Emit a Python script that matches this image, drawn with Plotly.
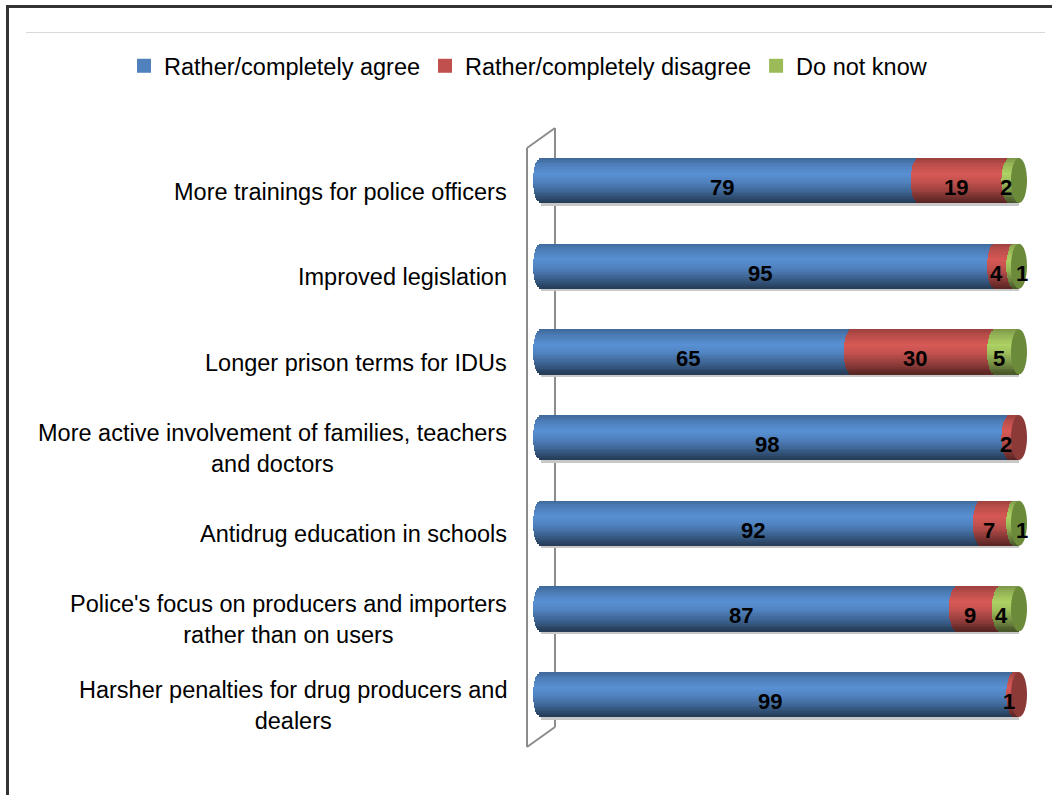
import math
import plotly.graph_objects as go

# ---- data -------------------------------------------------------------
categories = [
    "More trainings for police officers",
    "Improved legislation",
    "Longer prison terms for IDUs",
    "More active involvement of families, teachers<br>and doctors",
    "Antidrug education in schools",
    "Police's focus on producers and importers<br>rather than on users",
    "Harsher penalties for drug producers and<br>dealers",
]
agree = [79, 95, 65, 98, 92, 87, 99]
disagree = [19, 4, 30, 2, 7, 9, 1]
dont_know = [2, 1, 5, 0, 1, 4, 0]

series_names = ["Rather/completely agree", "Rather/completely disagree", "Do not know"]
series_values = [agree, disagree, dont_know]
series_colors = ["#4F81BD", "#C0504D", "#9BBB59"]
cap_colors = ["#2F5384", "#8C3A37", "#6B8A3A"]

# ---- geometry (pixels of the 1052x795 page) ---------------------------
W, H = 1052, 795
PL, PR, PT, PB = 524, 1034, 120, 760          # plot area edges
X0_PX, UNIT_PX = 541, 4.78                     # value 0 position, px per %
ROW0_PX, ROW_PX = 180.5, 85.67                 # first row centre, row pitch

x_range = [(PL - X0_PX) / UNIT_PX, (PR - X0_PX) / UNIT_PX]
y_range = [(PB - ROW0_PX) / ROW_PX, (PT - ROW0_PX) / ROW_PX]   # reversed

BAR_H = 45 / ROW_PX          # cylinder thickness in row units
RX = 8 / UNIT_PX             # horizontal radius of the cylinder ends
N_BANDS = 24
LABEL_DX = -8                # value labels sit on the front of the cylinder
LABEL_MIN_GAP = 22           # closer labels in a row get nudged apart
LABEL_NUDGE = 13


def px_x(px):
    return (px - PL) / (PR - PL)


def px_y(py):
    return (PB - py) / (PB - PT)


def hex_rgb(c):
    c = c.lstrip("#")
    return [int(c[i:i + 2], 16) for i in (0, 2, 4)]


# brightness across the cylinder, top (0) to bottom (1)
SHADE = [(0.0, 0.80), (0.12, 0.95), (0.35, 1.12), (0.55, 1.0),
         (0.75, 0.78), (0.9, 0.58), (1.0, 0.45)]


def shade(t):
    for (t0, f0), (t1, f1) in zip(SHADE, SHADE[1:]):
        if t0 <= t <= t1:
            return f0 + (f1 - f0) * (t - t0) / (t1 - t0)
    return 1.0


def shaded(color, f):
    r, g, b = hex_rgb(color)
    return "rgb({},{},{})".format(*[min(255, int(round(v * f))) for v in (r, g, b)])


rows = list(range(len(categories)))
totals = [a + d + k for a, d, k in zip(agree, disagree, dont_know)]

fig = go.Figure()

# soft shadow line under each cylinder
fig.add_trace(go.Bar(
    y=rows, x=totals, base=[0] * len(rows), orientation="h",
    offset=BAR_H / 2 - 0.004, width=3 / ROW_PX,
    marker=dict(color="#C8C8C8", line=dict(width=0)),
    showlegend=False, hoverinfo="skip",
))

# cylinders: each segment is drawn as thin horizontal bands with shading,
# the left end of every band pushed out so the segment starts with a curved face
for s, (vals, color) in enumerate(zip(series_values, series_colors)):
    starts = [sum(series_values[j][i] for j in range(s)) for i in rows]
    for k in range(N_BANDS):
        t_mid = (k + 0.5) / N_BANDS
        u = 2 * t_mid - 1
        bulge = RX * math.sqrt(max(0.0, 1 - u * u))
        bases, lengths = [], []
        for i in rows:
            v = vals[i]
            if v > 0:
                bases.append(starts[i] - bulge)
                lengths.append(v + bulge)
            else:
                bases.append(None)
                lengths.append(None)
        fig.add_trace(go.Bar(
            y=rows, x=lengths, base=bases, orientation="h",
            offset=-BAR_H / 2 + k * BAR_H / N_BANDS - 0.002,
            width=BAR_H / N_BANDS + 0.006,
            marker=dict(color=shaded(color, shade(t_mid)), line=dict(width=0)),
            showlegend=False, hoverinfo="skip",
        ))

# legend entries (square swatches)
for name, color in zip(series_names, series_colors):
    fig.add_trace(go.Scatter(
        x=[None], y=[None], mode="markers", name=name,
        marker=dict(color=color, symbol="square", size=14, line=dict(width=0)),
    ))

shapes = []
# end faces of the cylinders
for i in rows:
    last = max(s for s in range(3) if series_values[s][i] > 0)
    shapes.append(dict(
        type="circle", xref="x", yref="y", layer="above",
        x0=totals[i] - RX, x1=totals[i] + RX,
        y0=i - BAR_H / 2, y1=i + BAR_H / 2,
        fillcolor=cap_colors[last], line=dict(width=0),
    ))

# 3-D wall beside the category axis
wall = "#8C8C8C"
for (xa, ya), (xb, yb) in [((527, 148), (527, 747)), ((527, 148), (555, 128)),
                           ((555, 128), (555, 727)), ((527, 747), (555, 727))]:
    shapes.append(dict(type="line", xref="paper", yref="paper", layer="below",
                       x0=px_x(xa), y0=px_y(ya), x1=px_x(xb), y1=px_y(yb),
                       line=dict(color=wall, width=2)))

# chart frame and separator under the top edge
shapes.append(dict(type="line", xref="paper", yref="paper",
                   x0=px_x(6), y0=px_y(6.5), x1=px_x(1052), y1=px_y(6.5),
                   line=dict(color="#333333", width=3)))
shapes.append(dict(type="line", xref="paper", yref="paper",
                   x0=px_x(7.5), y0=px_y(5), x1=px_x(7.5), y1=px_y(795),
                   line=dict(color="#333333", width=3)))
shapes.append(dict(type="line", xref="paper", yref="paper",
                   x0=px_x(26), y0=px_y(32.5), x1=px_x(1045), y1=px_y(32.5),
                   line=dict(color="#D9D9D9", width=1)))

annotations = []
FONT = "Liberation Sans, Arial, sans-serif"
# category labels
for i, label in zip(rows, categories):
    annotations.append(dict(
        xref="paper", yref="y", x=px_x(509), y=i, yshift=-11,
        xanchor="right", yanchor="middle", align="center",
        text=label, showarrow=False,
        font=dict(family=FONT, size=23.5, color="#000000"),
    ))
# value labels
for i in rows:
    prev_px = None
    for s, vals in enumerate(series_values):
        v = vals[i]
        if v <= 0:
            continue
        start = sum(series_values[j][i] for j in range(s))
        mid = start + v / 2
        dx = LABEL_DX
        pos_px = X0_PX + mid * UNIT_PX + dx
        if prev_px is not None and pos_px - prev_px < LABEL_MIN_GAP:
            dx += LABEL_NUDGE
            pos_px += LABEL_NUDGE
        prev_px = pos_px
        annotations.append(dict(
            xref="x", yref="y", x=mid, y=i, xshift=dx, yshift=-7,
            xanchor="center", yanchor="middle",
            text="<b>{}</b>".format(v), showarrow=False,
            font=dict(family=FONT, size=22, color="#000000"),
        ))

fig.update_layout(
    width=W, height=H,
    margin=dict(l=PL, r=W - PR, t=PT, b=H - PB, pad=0),
    paper_bgcolor="white", plot_bgcolor="white",
    barmode="overlay", bargap=0,
    hovermode=False,
    xaxis=dict(range=x_range, showgrid=False, zeroline=False,
               showticklabels=False, showline=False, fixedrange=True),
    yaxis=dict(range=y_range, showgrid=False, zeroline=False,
               showticklabels=False, showline=False, fixedrange=True),
    # legend sits above the plot, left-anchored in the margin so the
    # whole row fits on one line
    legend=dict(orientation="h", x=px_x(124), xanchor="left",
                y=px_y(66), yanchor="middle",
                font=dict(family=FONT, size=23.5, color="#000000"),
                bgcolor="rgba(0,0,0,0)", traceorder="normal"),
    shapes=shapes,
    annotations=annotations,
)

fig.write_html("out.html")
